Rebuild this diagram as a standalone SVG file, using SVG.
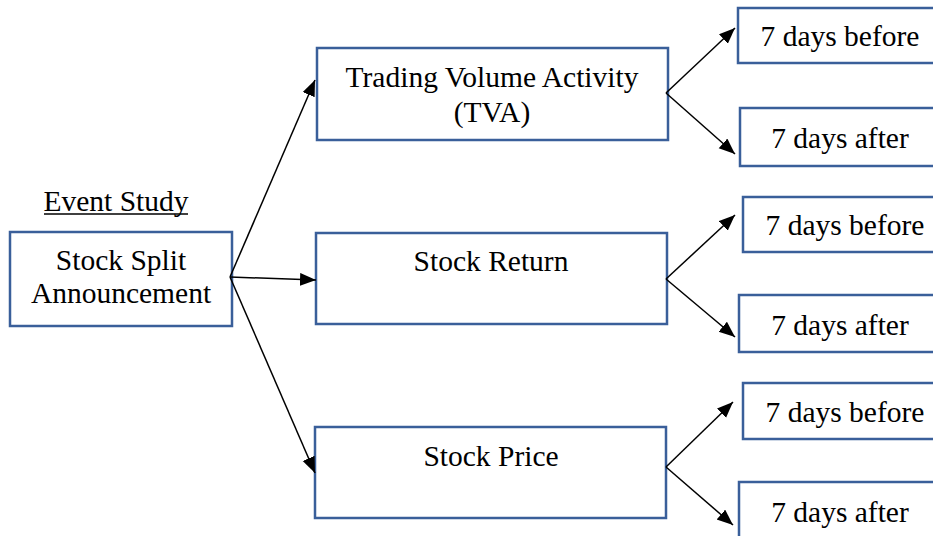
<svg xmlns="http://www.w3.org/2000/svg" width="933" height="536" viewBox="0 0 933 536">
<defs>
<marker id="ah" markerUnits="userSpaceOnUse" markerWidth="18" markerHeight="14" refX="16" refY="6.5" orient="auto">
<path d="M0,0 L16,6.5 L0,13 z" fill="#000"/>
</marker>
<style>
.box{fill:#fff;stroke:#3A5F9A;stroke-width:2.5}
.t{font-family:"Liberation Serif","DejaVu Serif","Times New Roman",serif;font-size:29.5px;fill:#000;text-anchor:middle}
.c{stroke:#000;stroke-width:1.5;fill:none;marker-end:url(#ah)}
</style>
</defs>
<rect width="933" height="536" fill="#fff"/>
<g id="label-event-study">
<text class="t" x="116" y="211">Event Study</text>
<line x1="44" y1="214" x2="188" y2="214" stroke="#000" stroke-width="1.5"/>
</g>
<g id="node-split">
<rect class="box" x="10" y="232" width="222" height="94"/>
<text class="t" x="121" y="270">Stock Split</text>
<text class="t" x="121" y="303">Announcement</text>
</g>
<g id="node-tva">
<rect class="box" x="317" y="48" width="351" height="92"/>
<text class="t" x="492" y="87">Trading Volume Activity</text>
<text class="t" x="492" y="122">(TVA)</text>
</g>
<g id="node-return">
<rect class="box" x="316" y="233" width="351" height="91"/>
<text class="t" x="491" y="271">Stock Return</text>
</g>
<g id="node-price">
<rect class="box" x="315" y="427" width="351" height="91"/>
<text class="t" x="491" y="466">Stock Price</text>
</g>
<g id="node-tva-before">
<rect class="box" x="738" y="8" width="205" height="55"/>
<text class="t" x="840" y="46">7 days before</text>
</g>
<g id="node-tva-after">
<rect class="box" x="740" y="108" width="205" height="58"/>
<text class="t" x="840" y="148">7 days after</text>
</g>
<g id="node-return-before">
<rect class="box" x="743" y="197" width="205" height="55"/>
<text class="t" x="845" y="235">7 days before</text>
</g>
<g id="node-return-after">
<rect class="box" x="739" y="295" width="205" height="57"/>
<text class="t" x="840" y="335">7 days after</text>
</g>
<g id="node-price-before">
<rect class="box" x="743" y="383" width="205" height="56"/>
<text class="t" x="845" y="422">7 days before</text>
</g>
<g id="node-price-after">
<rect class="box" x="739" y="482" width="205" height="70"/>
<text class="t" x="840" y="522">7 days after</text>
</g>
<g id="connectors">
<line class="c" x1="230" y1="277" x2="315" y2="80"/>
<line class="c" x1="230" y1="277" x2="316" y2="280"/>
<line class="c" x1="230" y1="277" x2="315" y2="473"/>
<line class="c" x1="666" y1="93" x2="735" y2="28"/>
<line class="c" x1="666" y1="93" x2="735" y2="154"/>
<line class="c" x1="666" y1="279" x2="735" y2="215"/>
<line class="c" x1="666" y1="279" x2="735" y2="337"/>
<line class="c" x1="666" y1="467" x2="733" y2="402"/>
<line class="c" x1="666" y1="467" x2="733" y2="525"/>
</g>
</svg>
